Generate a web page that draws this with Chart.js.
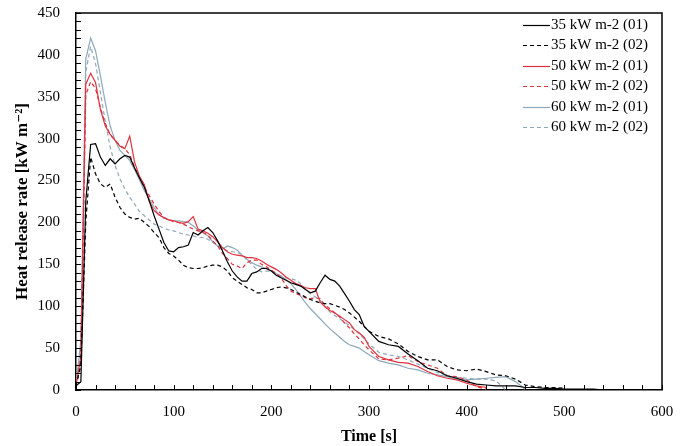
<!DOCTYPE html>
<html>
<head>
<meta charset="utf-8">
<script src="https://cdn.jsdelivr.net/npm/chart.js@4/dist/chart.umd.min.js"></script>
<style>
  html, body { margin: 0; padding: 0; background: #fff; }
  #wrap { width: 683px; height: 446px; }
</style>
</head>
<body>
<div id="wrap"><canvas id="grafico"></canvas></div>
<script>
// Tiempos [s] (cada 5 s hasta 300, luego cada 10 s)
const tiempos = [
  0,5,10,15,20,25,30,35,40,45,50,55,
  60,65,70,75,80,85,90,95,100,105,110,115,
  120,125,130,135,140,145,150,155,160,165,170,175,
  180,185,190,195,200,205,210,215,220,225,230,235,
  240,245,250,255,260,265,270,275,280,285,290,295,
  300,
  310,320,330,340,350,360,370,380,390,400,410,420,
  430,440,450,460,470,480,490,500,510,520,530,540
];

// HRR [kW m-2]
const hrr35a = [
  5,10,225,293,294,278,268,276,270,276,280,278,
  265,253,242,226,208,192,176,166,165,170,171,173,
  188,185,190,194,188,178,166,153,142,135,130,130,
  139,141,145,145,142,137,134,131,128,126,124,120,
  116,118,128,137,132,130,124,115,106,96,90,76,
  70,
  58,54,52,43,35,26,23,17,14,10,7,6,
  5,5,5,3,3,2,2,1,1,1,1,0
];
const hrr35b = [
  5,30,200,278,258,246,242,246,230,218,210,206,
  204,205,200,195,188,182,170,163,160,155,149,146,
  145,145,146,148,149,149,147,142,134,130,126,122,
  120,116,116,118,120,122,123,122,120,117,114,111,
  108,106,104,103,103,101,99,96,92,87,82,76,
  70,
  64,61,55,46,40,36,36,28,24,23,25,22,
  18,17,13,6,4,3,3,2
];
const hrr50a = [
  5,40,365,378,367,335,315,305,298,291,288,303,
  272,255,245,225,214,209,206,203,202,200,199,201,
  207,192,190,187,183,177,170,165,162,161,160,158,
  158,157,154,150,147,144,140,135,131,127,125,122,
  121,121,105,99,95,92,88,84,80,72,68,63,
  52,
  40,36,33,32,28,22,17,14,12,8,5,3
];
const hrr50b = [
  5,30,352,368,360,337,318,305,298,292,288,281,
  266,254,242,232,222,213,206,203,201,200,198,195,
  192,190,188,185,178,172,163,157,150,148,145,152,
  155,155,150,147,143,139,134,125,118,115,113,110,
  109,110,109,101,97,92,87,80,74,67,61,54,
  48,
  37,36,38,41,34,30,26,17,16,12,4,1
];
const hrr60a = [
  5,60,395,420,405,375,343,315,298,286,280,274,
  263,251,238,228,218,209,205,203,202,202,201,200,
  196,191,188,184,177,172,168,172,170,167,161,156,
  152,149,147,145,142,139,136,132,127,120,112,104,
  97,91,85,79,73,68,63,58,54,52,50,46,
  42,
  35,32,30,26,24,20,18,16,13,12,13,14,
  15,16,10,1
];
const hrr60b = [
  5,50,380,410,390,355,320,290,268,252,240,230,
  222,213,208,203,198,196,193,191,190,188,186,185,
  184,182,182,180,176,173,169,166,165,164,162,155,
  150,144,141,142,142,139,136,134,133,131,127,120,
  115,111,107,100,93,89,85,81,77,72,67,61,
  55,
  45,42,40,36,31,26,21,17,15,14,13,13,
  11,0
];

const etiquetas = ['35 kW m-2 (01)', '35 kW m-2 (02)', '50 kW m-2 (01)', '50 kW m-2 (02)', '60 kW m-2 (01)', '60 kW m-2 (02)'];
const series = [hrr35a, hrr35b, hrr50a, hrr50b, hrr60a, hrr60b];
const colores = ['#000000', '#000000', '#e0323e', '#e0323e', '#8ea8ba', '#8ea8ba'];
const discontinuas = [false, true, false, true, false, true];

const FUENTE = '"Liberation Serif", "DejaVu Serif", serif';

function puntos(valores) {
  return valores.map((v, i) => ({ x: tiempos[i], y: v }));
}

// Ticks hacia dentro, marco y leyenda dentro del área
const marcoYLeyenda = {
  id: 'marcoYLeyenda',
  afterDraw(chart) {
    const { ctx, chartArea: a, scales: { x, y } } = chart;
    ctx.save();
    ctx.strokeStyle = '#000';
    ctx.lineWidth = 1;
    ctx.beginPath();
    for (let v = 0; v <= 600; v += 20) {
      const px = Math.round(x.getPixelForValue(v)) + 0.5;
      ctx.moveTo(px, a.bottom);
      ctx.lineTo(px, a.bottom - 5);
    }
    for (let v = 0; v <= 450; v += 10) {
      const py = Math.round(y.getPixelForValue(v)) + 0.5;
      ctx.moveTo(a.left, py);
      ctx.lineTo(a.left + 5, py);
    }
    ctx.stroke();

    ctx.lineWidth = 1.5;
    ctx.beginPath();
    ctx.moveTo(a.left, a.top);
    ctx.lineTo(a.right, a.top);
    ctx.lineTo(a.right, a.bottom);
    ctx.stroke();

    // leyenda
    ctx.font = '15px ' + FUENTE;
    ctx.textBaseline = 'middle';
    ctx.fillStyle = '#000';
    chart.data.datasets.forEach((ds, i) => {
      const yy = Math.round(a.top + 12 + i * 20.4) + 0.5;
      ctx.strokeStyle = ds.borderColor;
      ctx.lineWidth = 1.2;
      ctx.setLineDash(ds.borderDash || []);
      ctx.beginPath();
      ctx.moveTo(a.right - 139, yy);
      ctx.lineTo(a.right - 112, yy);
      ctx.stroke();
      ctx.setLineDash([]);
      ctx.fillText(ds.label, a.right - 111, yy);
    });
    ctx.restore();
  }
};

new Chart(document.getElementById('grafico'), {
  type: 'line',
  data: {
    datasets: series.map((s, i) => ({
      label: etiquetas[i],
      data: puntos(s),
      borderColor: colores[i],
      borderWidth: 1.2,
      borderDash: discontinuas[i] ? [4, 3] : [],
      pointRadius: 0,
      tension: 0,
      fill: false
    }))
  },
  options: {
    responsive: true,
    maintainAspectRatio: false,
    animation: false,
    layout: { padding: { left: 0, right: 21, top: 13, bottom: 0 } },
    plugins: {
      legend: { display: false },
      tooltip: { enabled: false }
    },
    scales: {
      x: {
        type: 'linear',
        min: 0,
        max: 600,
        afterFit: (s) => { s.height = 56; s.paddingRight = 0; s.paddingLeft = 0; },
        grid: { display: false, drawTicks: false },
        border: { display: true, color: '#000', width: 1.5 },
        ticks: { stepSize: 100, padding: 13, color: '#000', font: { family: FUENTE, size: 15 } },
        title: { display: true, text: 'Time [s]', color: '#000', padding: { top: 0, bottom: 0 }, font: { family: FUENTE, size: 16, weight: 'bold' } }
      },
      y: {
        min: 0,
        max: 450,
        afterFit: (s) => { s.width = 76; s.paddingTop = 0; s.paddingBottom = 0; },
        grid: { display: false, drawTicks: false },
        border: { display: true, color: '#000', width: 1.5 },
        ticks: { stepSize: 50, padding: 16, color: '#000', font: { family: FUENTE, size: 15 } },
        title: { display: true, text: 'Heat release rate [kW m\u207B\u00B2]', color: '#000', padding: { top: 12, bottom: 0 }, font: { family: FUENTE, size: 17, weight: 'bold' } }
      }
    }
  },
  plugins: [marcoYLeyenda]
});
</script>
</body>
</html>
